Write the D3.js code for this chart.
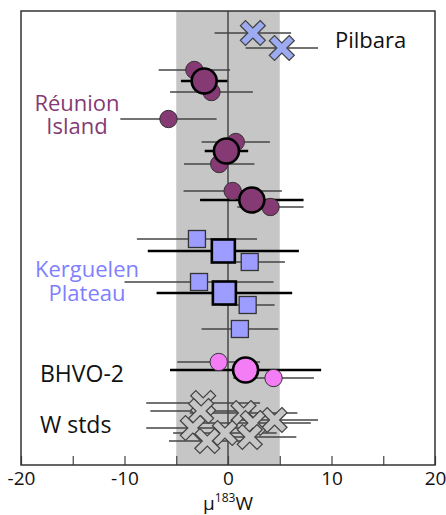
<!DOCTYPE html>
<html>
<head>
<meta charset="utf-8">
<script src="https://cdn.jsdelivr.net/npm/d3@7"></script>
<style>
  body { margin: 0; background: #fff; }
  text { font-family: "Open Sans", "Noto Sans", sans-serif; }
</style>
</head>
<body>
<div id="vis"></div>
<script>
const W = 446, H = 515;
const margin = { top: 11, right: 11, bottom: 50, left: 21 };

// values: mu183W, 2 s.d. error, row (vertical slot), big = sample mean
const pilbara = [
  { v: 2.4, e: 3.7, row: 2.2, big: false },
  { v: 5.2, e: 3.5, row: 3.7, big: false }
];
const reunion = [
  { v: -3.25, e: 3.45, row: 5.9, big: false },
  { v: -2.3, e: 2.25, row: 7.0, big: true },
  { v: -1.6, e: 4.0, row: 8.1, big: false },
  { v: -5.75, e: 4.65, row: 10.8, big: false },
  { v: 0.75, e: 3.3, row: 13.1, big: false },
  { v: -0.15, e: 2.1, row: 14.0, big: true },
  { v: -0.85, e: 3.4, row: 15.3, big: false },
  { v: 0.45, e: 4.75, row: 18.0, big: false },
  { v: 2.3, e: 5.0, row: 18.9, big: true },
  { v: 4.1, e: 3.2, row: 19.6, big: false }
];
const kerguelen = [
  { v: -3.0, e: 5.8, row: 22.8, big: false },
  { v: -0.45, e: 7.3, row: 24.0, big: true },
  { v: 2.1, e: 3.4, row: 25.1, big: false },
  { v: -2.8, e: 7.2, row: 27.1, big: false },
  { v: -0.35, e: 6.55, row: 28.2, big: true },
  { v: 1.9, e: 2.6, row: 29.4, big: false },
  { v: 1.15, e: 3.7, row: 31.8, big: false }
];
const bhvo = [
  { v: -0.9, e: 4.0, row: 35.1, big: false },
  { v: 1.7, e: 7.3, row: 35.9, big: true },
  { v: 4.4, e: 3.9, row: 36.7, big: false }
];
const wstds = [
  { v: -2.4, e: 5.5, row: 39.2, big: false },
  { v: -2.6, e: 4.9, row: 40.0, big: false },
  { v: 1.5, e: 5.2, row: 40.2, big: false },
  { v: 4.5, e: 4.2, row: 40.9, big: false },
  { v: 2.4, e: 5.6, row: 41.2, big: false },
  { v: -3.4, e: 4.5, row: 41.7, big: false },
  { v: -0.3, e: 5.0, row: 42.2, big: false },
  { v: 2.1, e: 4.5, row: 42.6, big: false },
  { v: -2.0, e: 3.7, row: 43.0, big: false }
];

const xTicks = [-20, -10, 0, 10, 20];
const xMinor = [-15, -5, 5, 15];
const band = [-5, 5];
const labels = ["Pilbara", ["Réunion", "Island"], ["Kerguelen", "Plateau"], "BHVO-2", "W stds"];

const width = W - margin.left - margin.right;
const height = H - margin.top - margin.bottom;

const x = d3.scaleLinear().domain([-20, 20]).range([0, width]);
const y = d3.scaleLinear().domain([0, 45.4]).range([0, height]);

const svg = d3.select("#vis").append("svg")
  .attr("width", W).attr("height", H);
const g = svg.append("g").attr("transform", `translate(${margin.left},${margin.top})`);

// shaded band +/- 5
g.append("rect")
  .attr("x", x(band[0])).attr("y", 0)
  .attr("width", x(band[1]) - x(band[0])).attr("height", height)
  .attr("fill", "#c6c6c6");

g.append("line")
  .attr("x1", x(0)).attr("x2", x(0)).attr("y1", 0).attr("y2", height)
  .attr("stroke", "#333").attr("stroke-width", 1.3);

// bottom axis, ticks inside
const xAxis = d3.axisBottom(x).tickValues(xTicks.concat(xMinor)).tickSize(-9).tickPadding(7)
  .tickFormat(d => xTicks.includes(d) ? d : "");
const ax = g.append("g").attr("transform", `translate(0,${height})`).call(xAxis);
ax.select(".domain").remove();
ax.selectAll(".tick line").attr("stroke", "#444").attr("stroke-width", 1.2);
ax.selectAll(".tick text").attr("font-size", 19).attr("fill", "#111")
  .attr("font-family", "'Open Sans', sans-serif");

g.append("rect").attr("width", width).attr("height", height)
  .attr("fill", "none").attr("stroke", "#333").attr("stroke-width", 1.5);

// X-shaped marker path
function xPath(a, w) {
  const pts = [[-w, -a], [w, -a], [w, -w], [a, -w], [a, w], [w, w], [w, a], [-w, a], [-w, w], [-a, w], [-a, -w], [-w, -w]];
  return "M" + pts.map(p => p.join(",")).join("L") + "Z";
}

const series = [
  { data: pilbara, shape: "x", fill: "#9cabf2" },
  { data: reunion, shape: "circle", fill: "#853a74" },
  { data: kerguelen, shape: "square", fill: "#9d9dff" },
  { data: bhvo, shape: "circle", fill: "#f47cf4" },
  { data: wstds, shape: "x", fill: "#c6c6c6" }
];

const bars = g.append("g");
const marks = g.append("g");

series.forEach(s => {
  bars.selectAll(null).data(s.data).join("line")
    .attr("x1", d => x(d.v - d.e)).attr("x2", d => x(d.v + d.e))
    .attr("y1", d => y(d.row)).attr("y2", d => y(d.row))
    .attr("stroke", d => d.big ? "#000" : "#444")
    .attr("stroke-width", d => d.big ? 2.6 : 1.3);
});

series.forEach(s => {
  const ordered = s.data.filter(d => !d.big).concat(s.data.filter(d => d.big));
  const sel = marks.selectAll(null).data(ordered);
  if (s.shape === "circle") {
    sel.join("circle")
      .attr("cx", d => x(d.v)).attr("cy", d => y(d.row))
      .attr("r", d => d.big ? 12.5 : 8.7)
      .attr("fill", s.fill)
      .attr("stroke", d => d.big ? "#000" : "#333")
      .attr("stroke-width", d => d.big ? 2.6 : 1);
  } else if (s.shape === "square") {
    sel.join("rect")
      .attr("x", d => x(d.v) - (d.big ? 11.5 : 8.5))
      .attr("y", d => y(d.row) - (d.big ? 11.5 : 8.5))
      .attr("width", d => d.big ? 23 : 17).attr("height", d => d.big ? 23 : 17)
      .attr("fill", s.fill)
      .attr("stroke", d => d.big ? "#000" : "#333")
      .attr("stroke-width", d => d.big ? 2.6 : 1.3);
  } else {
    sel.join("path")
      .attr("d", xPath(14, 3.6))
      .attr("transform", d => `translate(${x(d.v)},${y(d.row)}) rotate(45)`)
      .attr("fill", s.fill)
      .attr("stroke", "#444").attr("stroke-width", 1.3);
  }
});

// group labels
const lab = svg.append("g").attr("font-size", 22);
lab.append("text").attr("x", 335).attr("y", 48).attr("fill", "#111").text(labels[0]);
labels[1].forEach((s, i) => {
  lab.append("text").attr("text-anchor", "middle").attr("fill", "#853a74")
    .attr("x", 77).attr("y", 111 + i * 23).text(s);
});
labels[2].forEach((s, i) => {
  lab.append("text").attr("text-anchor", "middle").attr("fill", "#8080ff")
    .attr("x", 87).attr("y", 277 + i * 24).text(s);
});
lab.append("text").attr("x", 40).attr("y", 382).attr("font-size", 23).attr("fill", "#111").text(labels[3]);
lab.append("text").attr("x", 40).attr("y", 433).attr("font-size", 23).attr("fill", "#111").text(labels[4]);

// axis title
const t = svg.append("text").attr("x", x(0) + margin.left).attr("y", 510)
  .attr("text-anchor", "middle").attr("font-size", 19).attr("fill", "#111");
t.append("tspan").text("µ");
t.append("tspan").attr("font-size", 12).attr("dy", -8).text("183");
t.append("tspan").attr("dy", 8).text("W");
</script>
</body>
</html>
